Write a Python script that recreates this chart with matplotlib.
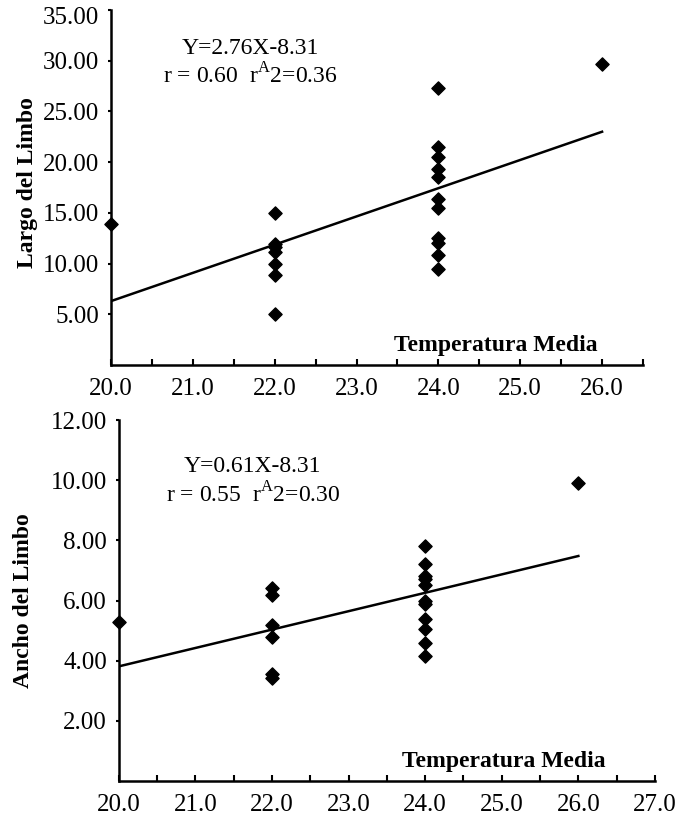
import matplotlib
matplotlib.use("Agg")
import matplotlib.pyplot as plt
import matplotlib.transforms as mtransforms
from matplotlib.ticker import MultipleLocator, FixedLocator

plt.rcParams['font.family'] = ['Liberation Serif', 'DejaVu Serif']
plt.rcParams['mathtext.fontset'] = 'custom'
plt.rcParams['mathtext.rm'] = 'Liberation Serif'

# ---- Data: top panel (Largo del Limbo) ----
largo_x = [20, 22, 22, 22, 22, 22, 22, 22,
           24, 24, 24, 24, 24, 24, 24, 24, 24, 24, 24, 26]
largo_y = [13.9, 15.0, 11.9, 11.6, 11.1, 10.0, 8.9, 5.0,
           27.3, 21.5, 20.5, 19.3, 18.5, 16.4, 15.5, 12.5, 12.0, 10.8, 9.5, 29.7]
largo_trend_x = [20, 26]
largo_trend_y = [6.3, 23.0]
largo_eq = ["Y=2.76X-8.31", r"r = 0.60  r$^{\mathrm{A}}$2=0.36"]

# ---- Data: bottom panel (Ancho del Limbo) ----
ancho_x = [20, 22, 22, 22, 22, 22, 22,
           24, 24, 24, 24, 24, 24, 24, 24, 24, 24, 24, 26]
ancho_y = [5.28, 6.41, 6.2, 5.2, 4.78, 3.56, 3.44,
           7.8, 7.22, 6.83, 6.72, 6.52, 6.0, 5.89, 5.39, 5.06, 4.58, 4.17, 9.89]
ancho_trend_x = [20, 26]
ancho_trend_y = [3.81, 7.48]
ancho_eq = ["Y=0.61X-8.31", r"r = 0.55  r$^{\mathrm{A}}$2=0.30"]

top_yticks = [5, 10, 15, 20, 25, 30, 35]
bot_yticks = [2, 4, 6, 8, 10, 12]
top_xticks = [20, 21, 22, 23, 24, 25, 26]
bot_xticks = [20, 21, 22, 23, 24, 25, 26, 27]

FS = 18
EQ_FS = 17
LBL_FS = 17

fig = plt.figure(figsize=(6.88, 8.21), dpi=100)
ax1 = fig.add_axes([0.1613, 0.5554, 0.7733, 0.4324])
ax2 = fig.add_axes([0.1725, 0.0487, 0.7795, 0.4397])


def style(ax, xlim, ylim, xticks, yticks, ylabel, ylab_xy, eq, eq_x, eq_y1, eq_y2, xl_xy):
    ax.set_xlim(*xlim)
    ax.set_ylim(*ylim)
    for s in ['top', 'right']:
        ax.spines[s].set_visible(False)
    for s in ['left', 'bottom']:
        ax.spines[s].set_linewidth(1.8)
    ax.xaxis.set_major_locator(FixedLocator(xticks))
    ax.xaxis.set_minor_locator(MultipleLocator(0.5))
    ax.set_xticklabels([f"{t:.1f}" for t in xticks], fontsize=FS)
    ax.yaxis.set_major_locator(FixedLocator(yticks))
    ax.set_yticklabels([f"{t:.2f}" for t in yticks], fontsize=FS)
    ax.tick_params(axis='x', which='both', direction='in', length=4, width=1.5, pad=9)
    ax.tick_params(axis='y', which='both', direction='out', length=2.5, width=1.5, pad=6)
    ax.set_ylabel(ylabel, fontsize=LBL_FS, fontweight='bold')
    ax.yaxis.set_label_coords(*ylab_xy)
    ax.text(xl_xy[0], xl_xy[1], "Temperatura Media", transform=ax.transAxes,
            fontsize=LBL_FS, fontweight='bold', ha='center', va='center')
    ax.text(eq_x, eq_y1, eq[0], transform=ax.transAxes,
            fontsize=EQ_FS, ha='center', va='center')
    ax.text(eq_x, eq_y2, eq[1], transform=ax.transAxes,
            fontsize=EQ_FS, ha='center', va='center')


ax1.scatter(largo_x, largo_y, marker='D', s=45, color='black', zorder=3, clip_on=False)
ax1.plot(largo_trend_x, largo_trend_y, color='black', lw=1.8)
style(ax1, (20, 26.5), (0, 35), top_xticks, top_yticks, "Largo del Limbo", (-0.138, 0.515),
      largo_eq, 0.262, 0.893, 0.815, (0.723, 0.056))

# nudge the topmost label down slightly so it sits inside the figure, as in the reference
top_lbl = ax1.get_yticklabels()[-1]
top_lbl.set_transform(top_lbl.get_transform() +
                      mtransforms.ScaledTranslation(0, -5 / 100, fig.dpi_scale_trans))

ax2.scatter(ancho_x, ancho_y, marker='D', s=45, color='black', zorder=3, clip_on=False)
ax2.plot(ancho_trend_x, ancho_trend_y, color='black', lw=1.8)
style(ax2, (20, 27), (0, 12), bot_xticks, bot_yticks, "Ancho del Limbo", (-0.158, 0.50),
      ancho_eq, 0.25, 0.870, 0.793, (0.718, 0.055))

fig.savefig("out.png", dpi=100)
